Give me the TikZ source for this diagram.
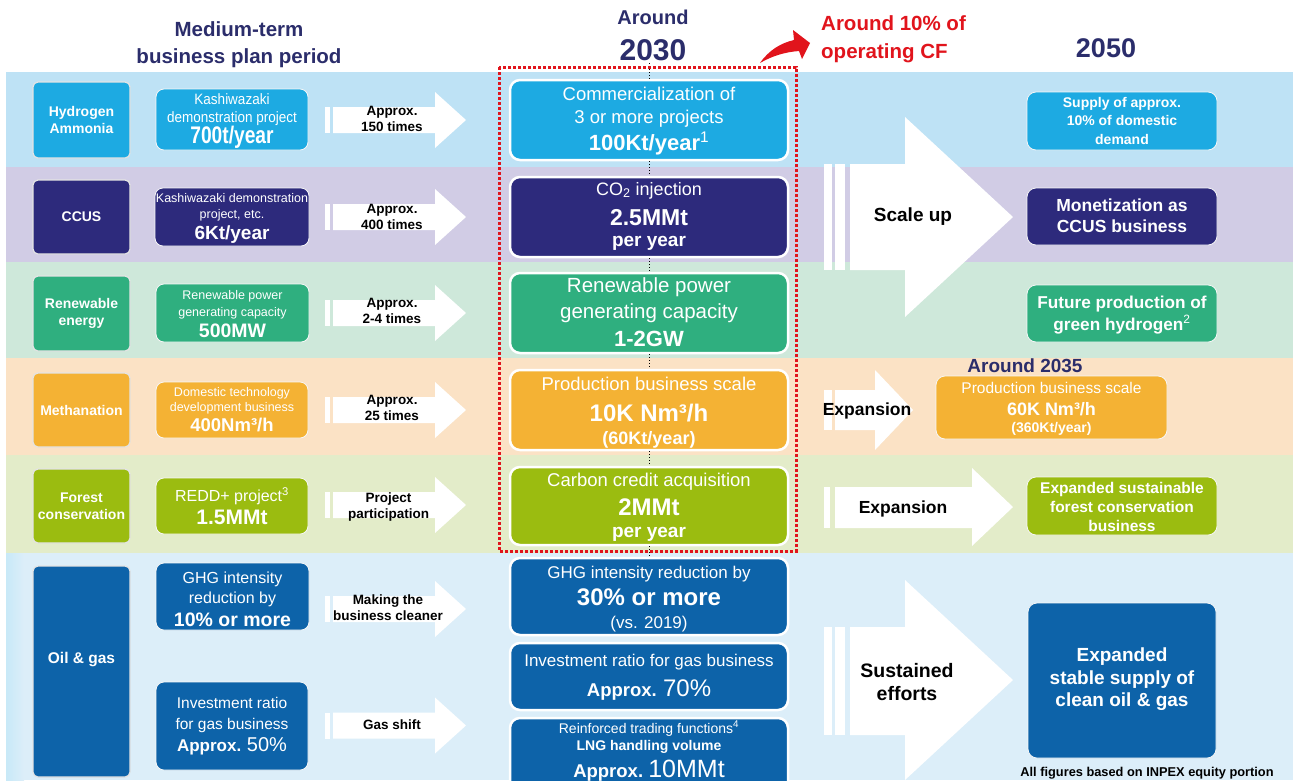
\documentclass[tikz,border=0pt]{standalone}
\usepackage{fontspec}
\setmainfont{Liberation Sans}
\newfontfamily\narrowA[FakeStretch=0.8]{Liberation Sans}
\newfontfamily\narrowB[FakeStretch=0.9]{Liberation Sans}
\definecolor{cH}{HTML}{1DAAE2}
\definecolor{cC}{HTML}{2D2A7C}
\definecolor{cR}{HTML}{2FAF7F}
\definecolor{cM}{HTML}{F4B234}
\definecolor{cF}{HTML}{9BBC10}
\definecolor{cO}{HTML}{0D63A9}
\definecolor{bH}{HTML}{BEE2F5}
\definecolor{bC}{HTML}{D1CCE5}
\definecolor{bR}{HTML}{CEE8DA}
\definecolor{bM}{HTML}{FBE2C5}
\definecolor{bF}{HTML}{E3ECC9}
\definecolor{bO}{HTML}{DCEEF9}
\definecolor{navy}{HTML}{2B2D6B}
\definecolor{cred}{HTML}{E1141C}
\definecolor{catedge}{HTML}{E4E4E4}
\newcommand\fs[2]{\fontsize{#1}{#2}\selectfont\lineskiplimit=-100pt\relax}
\newcommand\hs[1]{\rule{0pt}{#1pt}}
\newcommand\ls[1]{\rule[-#1pt]{0pt}{#1pt}}
\newcommand\sarrow[1]{%
  \fill[white] (325,#1-13) rectangle (330,#1+13);
  \fill[white] (333,#1-13) -- (435,#1-13) -- (435,#1-28) -- (466,#1)
    -- (435,#1+28) -- (435,#1+13) -- (333,#1+13) -- cycle;}
\begin{document}
\begin{tikzpicture}[x=1pt,y=-1pt,
  rect/.style n args={4}{at={({(#1+#3)/2},{(#2+#4)/2})}, minimum width={#3-#1}, minimum height={#4-#2}},
  box/.style={inner sep=0pt, align=center, text=white},
  cat/.style={box, rounded corners=5pt, draw=catedge, line width=1.2pt, font=\fs{14}{17}\bfseries},
  sbox/.style={box, rounded corners=8pt, draw=white!70!catedge, line width=0.8pt},
  mbox/.style={box, rounded corners=10pt, draw=white, line width=2.5pt},
  rbox/.style={box, rounded corners=9pt, draw=white!70!catedge, line width=0.8pt},
  lbl/.style={inner sep=0pt, align=center, text=black, font=\fs{13.5}{16}\bfseries},
  big/.style={inner sep=0pt, align=center, text=black},
  head/.style={inner sep=0pt, align=center, text=navy}]
\useasboundingbox (0,0) rectangle (1295,780);
\fill[white] (0,0) rectangle (1295,780);
% bands
\fill[bH] (6,72) rectangle (1293,167);
\fill[bC] (6,167) rectangle (1293,262);
\fill[bR] (6,262) rectangle (1293,358);
\fill[bM] (6,358) rectangle (1293,455);
\fill[bF] (6,455) rectangle (1293,553);
\fill[bO] (6,553) rectangle (1293,780);
\shade[left color=bO!70!cH!60, right color=bO] (6,553) rectangle (24,780);

% headers
\node[head, font=\fs{20.5}{27}\bfseries] (hdrL) at (239,45) {Medium-term\\business plan period};
\node[head, font=\fs{20}{20}\bfseries] (hdrA) at (653,17) {Around};
\node[head, font=\fs{30}{30}\bfseries] (hdr30) at (653,50) {2030};
\node[head, font=\fs{27}{27}\bfseries] (hdr50) at (1106,48) {2050};
\node[inner sep=0pt, align=left, text=cred, font=\fs{20.5}{28}\bfseries, anchor=west] (cfnote) at (821,39) {Around 10\% of\\operating CF};
\coordinate (y2030) at (649,63);

% category boxes
\node[cat, fill=cH, rect={33}{82}{130}{158}] (catH) {Hydrogen\\Ammonia};
\node[cat, fill=cC, rect={33}{180}{130}{254}] (catC) {CCUS};
\node[cat, fill=cR, rect={33}{276}{130}{351}] (catR) {Renewable\\energy};
\node[cat, fill=cM, rect={33}{373}{130}{447}] (catM) {Methanation};
\node[cat, fill=cF, rect={33}{469}{130}{543}] (catF) {Forest\\conservation};
\node[cat, fill=cO, rect={33}{566}{130}{777}, font=\fs{15.5}{18}\bfseries] (catO) {Oil \& gas\ls{28}};

% second column
\node[sbox, fill=cH, rect={156}{89}{308}{150}, font=\narrowB\fs{15}{18}] (sH)
  {\hs{15}Kashiwazaki\\demonstration project\\[2.5pt]{\narrowA\fs{24}{24}\bfseries 700t/year}\ls{6.5}};
\node[sbox, fill=cC, rect={155}{188}{309}{246}, font=\fs{12.5}{16}] (sC)
  {\hs{13}Kashiwazaki demonstration\\project, etc.\\[5pt]{\fs{19}{19}\bfseries 6Kt/year}\ls{6}};
\node[sbox, fill=cR, rect={156}{284}{309}{342}, font=\fs{12.5}{17}] (sR)
  {\hs{13}Renewable power\\generating capacity\\[4pt]{\fs{19.5}{19.5}\bfseries 500MW}\ls{3}};
\node[sbox, fill=cM, rect={156}{382}{308}{438}, font=\fs{12.5}{14.5}] (sM)
  {\hs{12.5}Domestic technology\\development business\\[6pt]{\fs{18.5}{18.5}\bfseries 400Nm³/h}\ls{4}};
\node[sbox, fill=cF, rect={156}{478}{308}{534}, font=\fs{16}{22.6}] (sF)
  {\hs{16}REDD+ project\textsuperscript{3}\\{\fs{21}{21}\bfseries 1.5MMt}\ls{2}};
\node[sbox, fill=cO, rect={156}{563}{309}{630}, font=\fs{16}{20}] (sO1)
  {\hs{17.5}GHG intensity\\reduction by\\[2.7pt]{\fs{19.5}{19.5}\bfseries 10\% or more}\ls{1.2}};
\node[sbox, fill=cO, rect={156}{682}{308}{770}, font=\fs{15.5}{21}] (sO2)
  {\hs{16}Investment ratio\\for gas business\\[1.4pt]{\fs{17}{17}\bfseries Approx.} {\fs{20}{20}50\%}\ls{8}};

% small arrows
\sarrow{120}
\sarrow{217}
\sarrow{313}
\sarrow{410}
\sarrow{505}
\sarrow{609}
\sarrow{725.5}
\node[lbl] (aH) at (392,118.5) {Approx.\\150 times};
\node[lbl] (aC) at (392,216.5) {Approx.\\400 times};
\node[lbl] (aR) at (392,311) {Approx.\\2-4 times};
\node[lbl] (aM) at (392,408) {Approx.\\25 times};
\node[lbl] (aF) at (388.5,506.5) {Project\\participation};
\node[lbl] (aO1) at (388,608) {Making the\\business cleaner};
\node[lbl] (aO2) at (392,725) {Gas shift};

% middle column
\node[mbox, fill=cH, rect={510}{80}{788}{160}, font=\fs{18.5}{23}] (m1)
  {\hs{16}Commercialization of\\3 or more projects\\[4pt]{\fs{22}{22}\bfseries 100Kt/year\textsuperscript{\mdseries 1}}\ls{6}};
\node[mbox, fill=cC, rect={510}{177}{788}{257}, font=\fs{18}{30}] (m2)
  {\hs{16}CO\textsubscript{2} injection\\{\fs{23}{23}\bfseries 2.5MMt}\\[-9pt]{\fs{19}{19}\bfseries per year}\ls{9}};
\node[mbox, fill=cR, rect={510}{273}{788}{353}, font=\fs{20.5}{26}] (m3)
  {\hs{16}Renewable power\\generating capacity\\[2pt]{\fs{22}{22}\bfseries 1-2GW}\ls{4}};
\node[mbox, fill=cM, rect={510}{370}{788}{450}, font=\fs{18.5}{31}] (m4)
  {\hs{19}Production business scale\\{\fs{24}{24}\bfseries 10K Nm³/h}\\[-8.5pt]{\fs{18}{18}\bfseries (60Kt/year)}\ls{4.5}};
\node[mbox, fill=cF, rect={510}{467}{788}{545}, font=\fs{18.5}{29.5}] (m5)
  {\hs{16}Carbon credit acquisition\\{\fs{24}{24}\bfseries 2MMt}\\[-8pt]{\fs{19}{19}\bfseries per year}\ls{5}};
\node[mbox, fill=cO, rect={510}{558}{788}{635}, font=\fs{17}{27.5}] (m6)
  {\hs{18}GHG intensity reduction by\\{\fs{24}{24}\bfseries 30\% or more}\\[-4.5pt](vs. 2019)\ls{4.5}};
\node[mbox, fill=cO, rect={510}{643}{788}{710}, font=\fs{17}{30.5}] (m7)
  {\hs{14}Investment ratio for gas business\\{\fs{18.5}{18.5}\bfseries Approx.} {\fs{24}{24}70\%}\ls{4.5}};
\node[mbox, fill=cO, rect={510}{718}{788}{795}, font=\fs{14}{17}] (m8)
  {\hs{12}Reinforced trading functions\textsuperscript{4}\\{\bfseries LNG handling volume}\\[10pt]{\fs{18.5}{18.5}\bfseries Approx.} {\fs{25}{25}10MMt}\ls{15}};

% dotted timeline
\draw[black, dotted, line width=1pt] (y2030) -- (m1);
\draw[black, dotted, line width=1pt] (m1) -- (m2);
\draw[black, dotted, line width=1pt] (m2) -- (m3);
\draw[black, dotted, line width=1pt] (m3) -- (m4);
\draw[black, dotted, line width=1pt] (m4) -- (m5);
\draw[black, dotted, line width=1pt] (m5) -- (m6);

% red dashed frame and arrow
\draw[cred, line width=3pt, dash pattern=on 3pt off 2pt] (499,67) rectangle (796,551);
\fill[cred] (760,63) .. controls (769,50) and (781,43) .. (794,40) -- (793,30) -- (810,43)
  -- (802,59) -- (799,51) .. controls (785,52) and (772,56) .. cycle;

% big arrows
\fill[white] (824,164) rectangle (832,270);
\fill[white] (835,164) rectangle (845,270);
\fill[white] (850,164) -- (905,164) -- (905,117) -- (1013,217) -- (905,317) -- (905,270) -- (850,270) -- cycle;
\node[big, font=\fs{19}{19}\bfseries] (tScale) at (913,216.5) {Scale up};

\fill[white] (824,390) rectangle (832,430);
\fill[white] (835,390) -- (875,390) -- (875,370) -- (913,410) -- (875,450) -- (875,430) -- (835,430) -- cycle;
\node[big, font=\fs{17.5}{17.5}\bfseries] (tExpM) at (867,411) {Expansion};

\fill[white] (824,487) rectangle (830,528);
\fill[white] (835,487) -- (972,487) -- (972,468) -- (1013,507) -- (972,546) -- (972,528) -- (835,528) -- cycle;
\node[big, font=\fs{17.5}{17.5}\bfseries] (tExpF) at (903,509) {Expansion};

\fill[white] (824,627) rectangle (832,735);
\fill[white] (835,627) rectangle (845,735);
\fill[white] (850,627) -- (905,627) -- (905,580) -- (1013,680) -- (905,780) -- (905,735) -- (850,735) -- cycle;
\node[big, font=\fs{19.5}{23}\bfseries] (tSus) at (907,682) {Sustained\\efforts};

% right column
\node[rbox, fill=cH, rect={1027}{92}{1217}{150}, font=\fs{14}{18.5}\bfseries] (rH)
  {\hs{13}Supply of approx.\\10\% of domestic\\demand\ls{4}};
\node[rbox, fill=cC, rect={1027}{188}{1217}{245}, font=\fs{17.5}{21}\bfseries] (rC)
  {\hs{13}Monetization as\\CCUS business\ls{3}};
\node[rbox, fill=cR, rect={1027}{285}{1217}{342}, font=\fs{17.2}{21.7}\bfseries] (rR)
  {\hs{15.5}Future production of\\green hydrogen\textsuperscript{\mdseries 2}\ls{4.2}};
\node[head, font=\fs{19}{19}\bfseries] (hdr35) at (1025,366) {Around 2035};
\node[rbox, fill=cM, rect={936}{376}{1167}{439}, font=\fs{15.5}{21.7}] (rM)
  {\hs{14}Production business scale\\{\fs{18}{18}\bfseries 60K Nm³/h}\\[-4pt]{\fs{14}{14}\bfseries (360Kt/year)}\ls{3}};
\node[rbox, fill=cF, rect={1027}{477}{1217}{535}, font=\fs{15.5}{19}\bfseries] (rF)
  {\hs{14.2}Expanded sustainable\\forest conservation\\business\ls{1}};
\node[rbox, fill=cO, rect={1028}{603}{1216}{758}, font=\fs{19}{22.5}\bfseries] (rO)
  {\hs{15}Expanded\\stable supply of\\clean oil \& gas\ls{7.6}};

\node[inner sep=0pt, text=black, font=\fs{12.8}{12.8}\bfseries] (foot) at (1147,773) {All figures based on INPEX equity portion};
\end{tikzpicture}
\end{document}
